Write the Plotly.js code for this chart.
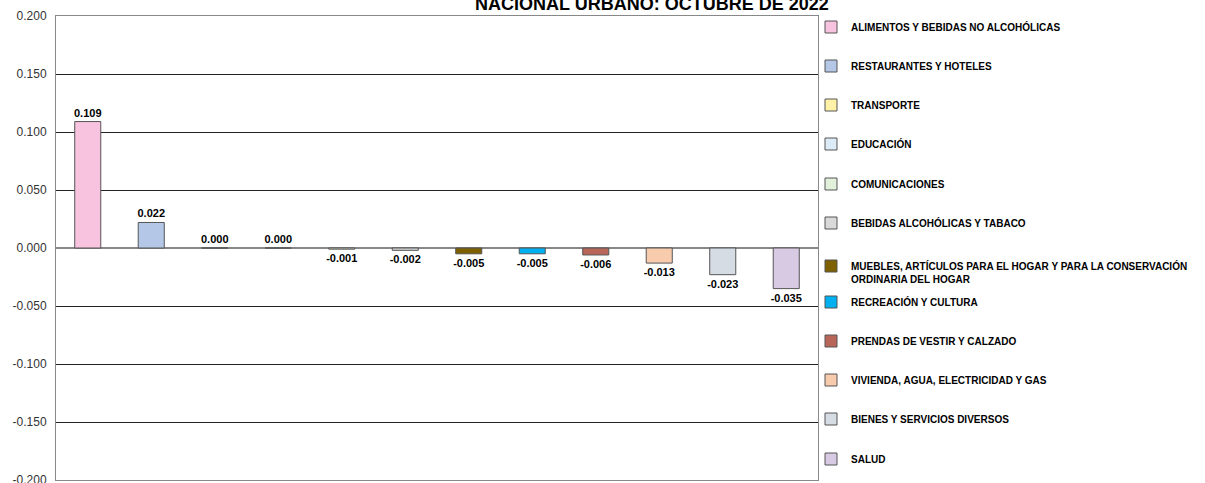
<!DOCTYPE html>
<html>
<head>
<meta charset="utf-8">
<script src="https://cdn.plot.ly/plotly-3.0.1.min.js"></script>
<style>html,body{margin:0;padding:0;background:#fff;}#chart{width:1205px;height:483px;}</style>
</head>
<body>
<div id="chart"></div>
<script>
const categories = [
  "ALIMENTOS Y BEBIDAS NO ALCOHÓLICAS",
  "RESTAURANTES Y HOTELES",
  "TRANSPORTE",
  "EDUCACIÓN",
  "COMUNICACIONES",
  "BEBIDAS ALCOHÓLICAS Y TABACO",
  "MUEBLES, ARTÍCULOS PARA EL HOGAR Y PARA LA CONSERVACIÓN<br>ORDINARIA DEL HOGAR",
  "RECREACIÓN Y CULTURA",
  "PRENDAS DE VESTIR Y CALZADO",
  "VIVIENDA, AGUA, ELECTRICIDAD Y GAS",
  "BIENES Y SERVICIOS DIVERSOS",
  "SALUD"
];
const values = [0.109, 0.022, 0.000, 0.000, -0.001, -0.002, -0.005, -0.005, -0.006, -0.013, -0.023, -0.035];
const colors = ["#F7C3DE", "#B4C7E7", "#FFF2A8", "#DDEBF7", "#E2EFDA", "#D9D9D9", "#7F6000", "#00B0F0", "#B9665A", "#F8CBAD", "#D6DCE4", "#D9CAE3"];
const yTicks = [-0.2, -0.15, -0.1, -0.05, 0, 0.05, 0.1, 0.15, 0.2];
const yTickText = ["-0.200", "-0.150", "-0.100", "-0.050", "0.000", "0.050", "0.100", "0.150", "0.200"];
const titleText = "NACIONAL URBANO: OCTUBRE DE 2022";

const legendY = [27, 66, 105, 144, 184, 223, 262, 302, 341, 380, 419, 459];
const plotTop = 16, plotBottom = 480, plotLeft = 56, plotRight = 818;
const ph = plotBottom - plotTop, pw = plotRight - plotLeft;

const traces = categories.map((c, i) => ({
  type: 'bar',
  x: [c],
  y: [values[i]],
  name: c,
  width: 0.41,
  marker: {color: colors[i], line: {color: '#555555', width: 1}},
  text: [values[i].toFixed(3)],
  textposition: 'outside',
  constraintext: 'none',
  textfont: {family: 'Liberation Sans, Arial, sans-serif', size: 11, color: '#000', weight: 'bold'},
  cliponaxis: false,
  hoverinfo: 'x+y',
  legend: i === 0 ? 'legend' : 'legend' + (i + 1)
}));

const layout = {
  width: 1205, height: 483,
  margin: {l: plotLeft, r: 1205 - plotRight, t: plotTop, b: 483 - plotBottom, pad: 0},
  paper_bgcolor: '#fff', plot_bgcolor: '#fff',
  barmode: 'overlay',
  showlegend: true,
  font: {family: 'Liberation Sans, Arial, sans-serif', color: '#000'},
  xaxis: {
    type: 'category', categoryarray: categories, showticklabels: false,
    showgrid: false, zeroline: false, showline: true, mirror: true,
    linecolor: '#888', linewidth: 1, ticks: '', fixedrange: true
  },
  yaxis: {
    range: [-0.2, 0.2], tickvals: yTicks, ticktext: yTickText,
    showgrid: true, gridcolor: '#222', gridwidth: 1,
    zeroline: true, zerolinecolor: '#888', zerolinewidth: 2,
    showline: true, mirror: true, linecolor: '#888', linewidth: 1,
    ticks: '', ticklabelstandoff: 6, ticklabeloverflow: 'allow',
    automargin: false,
    tickfont: {family: 'Liberation Sans, Arial, sans-serif', size: 12, color: '#333'},
    fixedrange: true
  },
  annotations: [{
    text: '<b>' + titleText + '</b>', xref: 'paper', yref: 'paper',
    x: (652 - plotLeft) / pw, y: (plotBottom - 4) / ph, xanchor: 'center', yanchor: 'middle',
    showarrow: false, font: {family: 'Liberation Sans, Arial, sans-serif', size: 18, color: '#000'}
  }]
};

categories.forEach((c, i) => {
  const key = i === 0 ? 'legend' : 'legend' + (i + 1);
  const multi = c.indexOf('<br>') >= 0;
  layout[key] = {
    x: (811 - plotLeft) / pw,
    y: (plotBottom - legendY[i]) / ph,
    xanchor: 'left',
    yanchor: multi ? 'top' : 'middle',
    valign: multi ? 'top' : 'middle',
    bgcolor: 'rgba(0,0,0,0)', borderwidth: 0,
    font: {family: 'Liberation Sans, Arial, sans-serif', size: 10, color: '#000', weight: 'bold'},
    itemclick: false, itemdoubleclick: false
  };
  if (multi) layout[key].y = (plotBottom - legendY[i] + 9) / ph;
});

Plotly.newPlot('chart', traces, layout, {displayModeBar: false});
</script>
</body>
</html>
